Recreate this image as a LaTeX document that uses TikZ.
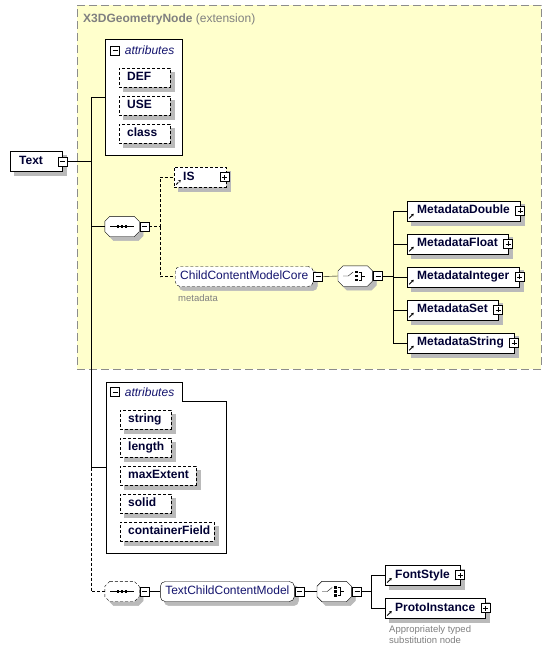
\documentclass[tikz,border=0pt]{standalone}
\usepackage{fontspec}
\setmainfont{Liberation Sans}
\usepackage{tikz}
\usetikzlibrary{shapes,arrows,arrows.meta,positioning}

\definecolor{extfill}{RGB}{255,255,204}
\definecolor{extborder}{RGB}{140,140,140}
\colorlet{boxshadowcolor}{black!27}
\definecolor{nametext}{RGB}{0,0,51}
\definecolor{groupblue}{RGB}{20,20,110}
\definecolor{notegray}{RGB}{128,128,128}

\pgfdeclarelayer{background}
\pgfdeclarelayer{boxshadows}
\pgfsetlayers{background,boxshadows,main}

\tikzstyle{optional} = [dash pattern=on 3pt off 2pt]
\tikzstyle{extension} = [rectangle, draw=extborder, fill=extfill, dash pattern=on 8pt off 4pt, inner sep=0pt]
\tikzstyle{elem} = [rectangle, draw=black, fill=white, minimum height=20pt, inner xsep=10pt, inner ysep=0pt, text height=9pt, text depth=3pt, font=\bfseries, text=nametext]
\tikzstyle{refelem} = [elem, path picture={\draw[black, -{Stealth[length=2.5pt,width=3pt]}, line width=0.9pt] ([xshift=2pt,yshift=2.5pt]path picture bounding box.south west) -- ++(4.5pt,4.5pt);}]
\tikzstyle{attr} = [rectangle, draw=black, optional, fill=white, minimum height=19pt, inner xsep=8pt, inner ysep=0pt, text width=35pt, align=left, text height=9pt, text depth=3pt, font=\bfseries, text=nametext]
\tikzstyle{attrgroup} = [rectangle, draw=black, fill=white, inner sep=0pt]
\tikzstyle{grouplabel} = [inner sep=0pt, font=\itshape, text=groupblue]
\tikzstyle{groupref} = [rectangle, rounded corners=5pt, draw=black, fill=white, minimum height=20pt, inner xsep=5pt, inner ysep=0pt, text height=9pt, text depth=3pt, text=groupblue]
\tikzstyle{compositor} = [rectangle, minimum width=34pt, minimum height=20pt, inner sep=0pt]
\tikzstyle{shadowfill} = [fill=boxshadowcolor, draw=boxshadowcolor, line width=0.5pt]
\tikzstyle{seqnode} = [compositor, path picture={
    \coordinate (c) at (path picture bounding box.center);
    \draw[black] ([xshift=-12pt]c) -- ([xshift=12pt]c);
    \foreach \dx in {-4,0,4} \fill[black] ([xshift=\dx pt]c) +(-1.3pt,-1.4pt) rectangle +(1.3pt,1.4pt);}]
\tikzstyle{choicenode} = [compositor, path picture={
    \coordinate (c) at (path picture bounding box.center);
    \draw[black] ([xshift=-12pt]c) -- ([xshift=-7pt]c) -- ([xshift=-2pt,yshift=4pt]c);
    \foreach \dy in {-4,0,4} \fill[black] ([xshift=1.5pt,yshift=\dy pt]c) +(-1.4pt,-1.3pt) rectangle +(1.4pt,1.3pt);
    \draw[black] ([xshift=3.5pt,yshift=4pt]c) -- ([xshift=6pt,yshift=4pt]c) -- ([xshift=6pt,yshift=-4pt]c) -- ([xshift=3.5pt,yshift=-4pt]c);
    \draw[black] ([xshift=6pt]c) -- ([xshift=10pt]c);}]
\tikzstyle{minusbox} = [rectangle, draw=black, fill=white, minimum size=9pt, inner sep=0pt,
    path picture={\draw[black] ([xshift=-2.5pt]path picture bounding box.center) -- ([xshift=2.5pt]path picture bounding box.center);}]
\tikzstyle{plusbox} = [minusbox,
    path picture={\draw[black] ([xshift=-2.5pt]path picture bounding box.center) -- ([xshift=2.5pt]path picture bounding box.center);
                  \draw[black] ([yshift=-2.5pt]path picture bounding box.center) -- ([yshift=2.5pt]path picture bounding box.center);}]
\tikzstyle{note} = [inner sep=0pt, font=\fontsize{9.5}{11}\selectfont, text=notegray, align=left]

% octagon round a compositor node, moved by (#2,#3)
\newcommand{\octagonpath}[3]{([xshift=#2+5pt,yshift=#3]#1.north west) -- ([xshift=#2-5pt,yshift=#3]#1.north east)
    -- ([xshift=#2,yshift=#3-5pt]#1.north east) -- ([xshift=#2,yshift=#3+5pt]#1.south east)
    -- ([xshift=#2-5pt,yshift=#3]#1.south east) -- ([xshift=#2+5pt,yshift=#3]#1.south west)
    -- ([xshift=#2,yshift=#3+5pt]#1.south west) -- ([xshift=#2,yshift=#3-5pt]#1.north west) -- cycle}

\begin{document}
\fontsize{12}{14}\selectfont
\begin{tikzpicture}[x=1pt, y=-1pt, line width=0.9pt]
        \useasboundingbox (0,0) rectangle (551,654);
        % extension
        \begin{pgfonlayer}{background}
        \fill[white] (0,0) rectangle (551,654);
        \node (ext) [extension, anchor=north west, minimum width=464pt, minimum height=364pt] at (77,5) {};
        \end{pgfonlayer}
        \node (extTitle) [anchor=west, inner sep=0pt, text=notegray] at (83,19) {\textbf{X3DGeometryNode} (extension)};
        % root
        \node (textElem) [elem, anchor=west, inner xsep=9pt, text width=34pt, align=left] at (10,161.5) {Text};
        \node (textMinus) [minusbox] at (textElem.east) {};
        \coordinate (trunk) at (91,161.5);
        % first attributes
        \begin{pgfonlayer}{background}
        \node (attr1) [attrgroup, minimum width=77pt, minimum height=116pt] at (143.5,97) {};
        \end{pgfonlayer}
        \node (attr1Minus) [minusbox] at (115,50.5) {};
        \node (attr1Label) [grouplabel, right=5pt of attr1Minus] {attributes};
        \node (aDEF) [attr, anchor=west] at (119,77.5) {DEF};
        \node (aUSE) [attr, anchor=west] at ([yshift=-28pt]aDEF.west) {USE};
        \node (aClass) [attr, anchor=west] at ([yshift=-28pt]aUSE.west) {class};
        % sequence IS / ChildContentModelCore
        \node (seq1) [seqnode] at (122,226.5) {};
        \node (seq1Minus) [minusbox, anchor=west] at ([xshift=0.5pt]seq1.east) {};
        \coordinate (split1) at (160,226.5);
        \node (is) [refelem, optional, anchor=west, inner xsep=9pt, text width=34pt, align=left] at (174,177) {IS};
        \node (isPlus) [plusbox] at ([xshift=-2pt]is.east) {};
        \node (ccmc) [groupref, optional, anchor=west] at (175,276.5) {ChildContentModelCore};
        \node (ccmcMinus) [minusbox, anchor=west] at (ccmc.east) {};
        \node (ccmcNote) [note, anchor=west] at (178,298) {metadata};
        \node (choice1) [choicenode, anchor=west] at (338,276) {};
        \node (choice1Minus) [minusbox, anchor=west] at ([xshift=1pt]choice1.east) {};
        \coordinate (branch1) at (393,276);
        \node (mdDouble) [refelem, anchor=west] at (407,210.7) {MetadataDouble};
        \node (mdFloat) [refelem, anchor=west] at ([yshift=-33pt]mdDouble.west) {MetadataFloat};
        \node (mdInteger) [refelem, anchor=west] at ([yshift=-33pt]mdFloat.west) {MetadataInteger};
        \node (mdSet) [refelem, anchor=west] at ([yshift=-33pt]mdInteger.west) {MetadataSet};
        \node (mdString) [refelem, anchor=west] at ([yshift=-33pt]mdSet.west) {MetadataString};
        \foreach \m in {mdDouble,mdFloat,mdInteger,mdSet,mdString}
            \node (\m Plus) [plusbox] at (\m.east) {};
        % second attributes
        \node (attr2) [minimum width=120pt, minimum height=171pt, inner sep=0pt] at (166,467.5) {};
        \begin{pgfonlayer}{background}
        \draw[fill=white] (attr2.north west) -- ++(76,0) -- ++(0,19) -| (attr2.south east) -- (attr2.south west) -- cycle;
        \end{pgfonlayer}
        \node (attr2Minus) [minusbox] at (115,392) {};
        \node (attr2Label) [grouplabel, right=5pt of attr2Minus] {attributes};
        \node (aString) [attr, anchor=west] at (120,419.7) {string};
        \node (aLength) [attr, anchor=west] at ([yshift=-28pt]aString.west) {length};
        \node (aMaxExtent) [attr, anchor=west, text width=60pt] at ([yshift=-28pt]aLength.west) {maxExtent};
        \node (aSolid) [attr, anchor=west] at ([yshift=-28pt]aMaxExtent.west) {solid};
        \node (aContainerField) [attr, anchor=west, text width=78pt] at ([yshift=-28pt]aSolid.west) {containerField};
        % TextChildContentModel
        \node (seq2) [seqnode] at (122,591.5) {};
        \node (seq2Minus) [minusbox, anchor=west] at ([xshift=0.5pt]seq2.east) {};
        \node (tccm) [groupref, right=11pt of seq2Minus] {TextChildContentModel};
        \node (tccmMinus) [minusbox, anchor=west] at (tccm.east) {};
        \node (choice2) [choicenode, right=13pt of tccmMinus] {};
        \node (choice2Minus) [minusbox, anchor=west] at ([xshift=1pt]choice2.east) {};
        \coordinate (branch2) at (371,591.5);
        \node (fontStyle) [refelem, anchor=west] at (385,575) {FontStyle};
        \node (protoInstance) [refelem, anchor=west] at ([yshift=-33pt]fontStyle.west) {ProtoInstance};
        \node (fontStylePlus) [plusbox] at (fontStyle.east) {};
        \node (protoInstancePlus) [plusbox] at (protoInstance.east) {};
        \node (protoNote) [note, anchor=north west] at (389,625) {Appropriately typed\\substitution node};
        % shadows and compositor outlines
        \begin{pgfonlayer}{boxshadows}
        \foreach \n in {textElem,aDEF,aUSE,aClass,is,mdDouble,mdFloat,mdInteger,mdSet,mdString,
                        aString,aLength,aMaxExtent,aSolid,aContainerField,fontStyle,protoInstance}
            \draw[shadowfill] ([xshift=4pt,yshift=-4pt]\n.south west) rectangle ([xshift=4pt,yshift=-4pt]\n.north east);
        \foreach \n in {ccmc,tccm}
            \draw[shadowfill, rounded corners=5pt] ([xshift=4pt,yshift=-4pt]\n.south west) rectangle ([xshift=4pt,yshift=-4pt]\n.north east);
        \foreach \n in {seq1,choice1,seq2,choice2}
            \draw[shadowfill] \octagonpath{\n}{4pt}{-4pt};
        \foreach \n in {seq1,choice1,choice2}
            \draw[fill=white] \octagonpath{\n}{0pt}{0pt};
        \draw[fill=white, optional] \octagonpath{seq2}{0pt}{0pt};
        \end{pgfonlayer}
        % connectors
        \draw (textMinus.east) -- (trunk);
        \draw (trunk) |- (attr1.west);
        \draw (trunk) |- (seq1.west);
        \draw (trunk) |- (attr2.west);
        \draw[optional] (attr2.west -| trunk) |- (seq2.west);
        \draw[optional] (seq1Minus.east) -- (split1) |- (is.west);
        \draw[optional] (split1) |- (ccmc.west);
        \draw (ccmcMinus.east) -- (choice1.west);
        \foreach \m in {mdDouble,mdFloat,mdInteger,mdSet,mdString}
            \draw (choice1Minus.east) -- (branch1) |- (\m.west);
        \draw (seq2Minus.east) -- (tccm.west);
        \draw (tccmMinus.east) -- (choice2.west);
        \draw (choice2Minus.east) -- (branch2) |- (fontStyle.west);
        \draw (branch2) |- (protoInstance.west);
\end{tikzpicture}
\end{document}
